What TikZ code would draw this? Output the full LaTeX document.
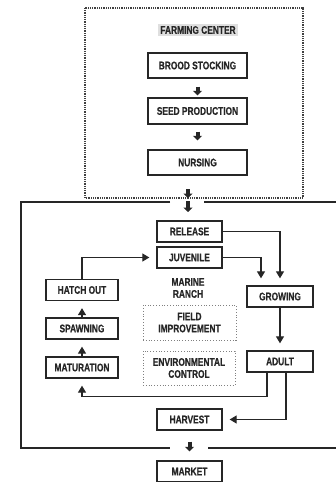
\documentclass[tikz,border=0pt]{standalone}
\usepackage{fontspec}
\setmainfont{Liberation Sans}[FakeStretch=0.76, FakeBold=0.6]
\usetikzlibrary{arrows.meta}

\begin{document}
\begin{tikzpicture}[x=1pt, y=-1pt, font=\bfseries\fontsize{11}{12}\selectfont, text=black!85,
    stage/.style={rectangle, draw=black!85, line width=1.3pt, minimum height=21pt, inner sep=0pt},
    farm/.style={stage, minimum width=99pt, minimum height=25pt},
    ranch/.style={stage, minimum width=65pt},
    side/.style={stage, minimum width=72pt},
    life/.style={stage, minimum width=66pt},
    note/.style={rectangle, draw=gray, dotted, line width=0.8pt, align=center},
    flow/.style={draw=black!85, line width=1.2pt, -{Triangle[width=8pt,length=7pt]}, shorten >=7pt},
    bigarrow/.style={draw=black!85, line width=4pt, -{Triangle[width=9pt,length=4.5pt]}}
    ]
    \useasboundingbox (0,0) rectangle (336,482);
    \draw[gray!50!black, line width=1.4pt, dash pattern=on 1pt off 0.8pt] (85,8) rectangle (303,198);
    \node[fill=gray!25, inner sep=2pt] (title) at (198,30) {FARMING CENTER};
    \node[farm] (brood) at (197.5,65.5) {BROOD STOCKING};
    \node[farm, minimum height=26pt] (seed) at (197.5,111) {SEED PRODUCTION};
    \node[farm] (nursing) at (197.5,162.5) {NURSING};
    \draw[bigarrow] ([yshift=-8pt]brood.south) -- ([yshift=2pt]seed.north);
    \draw[bigarrow] ([yshift=-7pt]seed.south) -- ([yshift=9pt]nursing.north);

    \coordinate (gap) at (188,200);
    \draw[bigarrow] ([yshift=11pt]gap) -- ([yshift=2pt]gap);
    \draw[bigarrow] ([yshift=-1pt]gap) -- ([yshift=-12pt]gap);
    \draw[black!85, line width=1.3pt] (170,202) -- (21,202) -- (21,448) -- (170,448)
      (204,202) -- (336,202) (208,448) -- (336,448);

    \node[ranch] (release) at (189.5,231.5) {RELEASE};
    \node[ranch] (juvenile) at (189.5,257.5) {JUVENILE};
    \node[side] (hatch) at (82,290) {HATCH OUT};
    \node[side] (spawning) at (82,328.5) {SPAWNING};
    \node[side] (maturation) at (82,367.5) {MATURATION};
    \node[life] (growing) at (280,296.5) {GROWING};
    \node[life] (adult) at (280,361.5) {ADULT};
    \node[align=center] (marine) at (188,288) {MARINE\\RANCH};
    \node[note, minimum width=93pt, minimum height=35pt] (field) at (189.5,322.5) {FIELD\\IMPROVEMENT};
    \node[note, minimum width=92pt, minimum height=34pt] (env) at (189,368) {ENVIRONMENTAL\\CONTROL};
    \node[ranch] (harvest) at (189.5,419.5) {HARVEST};
    \node[ranch] (market) at (189.5,471.5) {MARKET};

    \draw[flow] (release.east) -| (growing.north);
    \draw[flow] (juvenile.east) -| ([xshift=-19pt]growing.north);
    \draw[flow] (hatch.north) |- (juvenile.west);
    \draw[flow] (spawning.north) -- (hatch.south);
    \draw[flow] (maturation.north) -- (spawning.south);
    \draw[flow] (growing.south) -- (adult.north);
    \draw[flow] ([xshift=-13pt]adult.south) -- ++(0,24) -| (maturation.south);
    \draw[flow] ([xshift=6pt]adult.south) |- (harvest.east);
    \draw[bigarrow] ([yshift=-11pt]harvest.south) -- ([yshift=9pt]market.north);
\end{tikzpicture}
\end{document}
